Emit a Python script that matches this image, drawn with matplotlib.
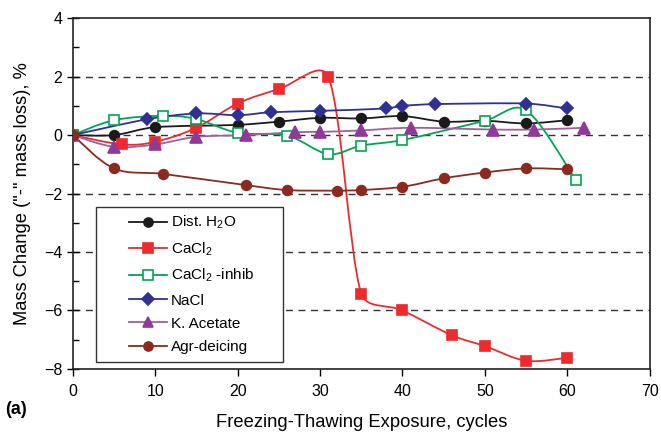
import numpy as np
import matplotlib
matplotlib.use("Agg")
import matplotlib.pyplot as plt
from matplotlib.path import Path
from matplotlib.patches import PathPatch, Rectangle
from matplotlib.lines import Line2D

plt.rcParams['font.family'] = ['Liberation Sans', 'DejaVu Sans']
plt.rcParams['mathtext.default'] = 'regular'

# data
x_h2o = [0, 5, 10, 20, 25, 30, 35, 40, 45, 50, 55, 60]
y_h2o = [0, 0, 0.27, 0.35, 0.46, 0.59, 0.57, 0.65, 0.46, 0.49, 0.40, 0.51]

x_cacl2 = [0, 6, 10, 15, 20, 25, 31, 35, 40, 46, 50, 55, 60]
y_cacl2 = [0, -0.32, -0.23, 0.25, 1.08, 1.57, 2.0, -5.42, -6.0, -6.85, -7.22, -7.72, -7.62]

x_inhib = [0, 5, 11, 15, 20, 26, 31, 35, 40, 50, 55, 61]
y_inhib = [0, 0.51, 0.66, 0.55, 0.08, -0.02, -0.65, -0.36, -0.17, 0.49, 0.85, -1.52]

x_nacl = [0, 9, 15, 20, 24, 30, 38, 40, 44, 55, 60]
y_nacl = [0, 0.54, 0.74, 0.68, 0.78, 0.83, 0.91, 1.0, 1.06, 1.08, 0.91]

x_kac = [0, 5, 10, 15, 21, 27, 30, 35, 41, 51, 56, 62]
y_kac = [0, -0.4, -0.32, -0.06, 0.0, 0.1, 0.11, 0.16, 0.25, 0.19, 0.19, 0.25]

x_agr = [0, 5, 11, 21, 26, 32, 35, 40, 45, 50, 55, 60]
y_agr = [0, -1.14, -1.33, -1.71, -1.88, -1.90, -1.88, -1.77, -1.48, -1.28, -1.14, -1.17]

series = [
    ("Dist. H$_2$O", x_h2o, y_h2o, '#1a1a1a', '#1a1a1a', 'o', '#1a1a1a'),
    ("CaCl$_2$", x_cacl2, y_cacl2, '#ee2a2e', '#ee2a2e', 's', '#ee2a2e'),
    ("CaCl$_2$ -inhib", x_inhib, y_inhib, '#00a651', 'white', 's', '#00a651'),
    ("NaCl", x_nacl, y_nacl, '#2e3192', '#2e3192', 'D', '#2e3192'),
    ("K. Acetate", x_kac, y_kac, '#a0609f', '#8e3a96', '^', '#8e3a96'),
    ("Agr-deicing", x_agr, y_agr, '#8b2a1e', '#8b2a1e', 'o', '#8b2a1e'),
]
msizes = {'o': 7, 's': 7, 'D': 6.5, '^': 8}

SY = 3.55  # y stretch so smoothing is done roughly in screen proportions


def smooth_path(xs, ys, clamp=0.38):
    # excel-like smoothed line: cubic bezier through the points,
    # handle length limited by the segment length
    p = np.column_stack([xs, np.asarray(ys) * SY]).astype(float)
    verts = [p[0]]
    codes = [Path.MOVETO]
    n = len(p)
    for i in range(n - 1):
        p0 = p[i - 1] if i > 0 else p[i]
        p1, p2 = p[i], p[i + 1]
        p3 = p[i + 2] if i + 2 < n else p[i + 1]
        seg = np.hypot(*(p2 - p1))
        d1 = (p2 - p0) / 6.0
        d2 = (p3 - p1) / 6.0
        for d in (d1, d2):
            L = np.hypot(*d)
            if L > clamp * seg and L > 0:
                d *= clamp * seg / L
        verts += [p1 + d1, p2 - d2, p2]
        codes += [Path.CURVE4] * 3
    v = np.array(verts)
    v[:, 1] /= SY
    return Path(v, codes)


fig = plt.figure(figsize=(6.61, 4.33), dpi=100)
ax = fig.add_axes([0.110, 0.148, 0.873, 0.810])

for y in [2, 0, -2, -4, -6]:
    ax.axhline(y, color='#333333', lw=1.0, ls=(0, (5, 4)), zorder=1)

handles = []
for lab, xs, ys, lc, fc, mk, ec in series:
    ax.add_patch(PathPatch(smooth_path(xs, ys), fill=False, edgecolor=lc, lw=1.3, zorder=2))
    ax.plot(xs, ys, ls='none', marker=mk, ms=msizes[mk], mfc=fc, mec=ec, mew=1.2, zorder=3)
    handles.append(Line2D([0], [0], color=lc, lw=1.3, marker=mk, ms=msizes[mk] - 0.5,
                          mfc=fc, mec=ec, mew=1.2, label=lab))

ax.set_xlim(0, 70)
ax.set_ylim(-8, 4)
ax.set_xticks(np.arange(0, 71, 10))
ax.set_yticks(np.arange(-8, 5, 2))
ax.set_yticks(np.arange(-7, 4, 2), minor=True)
ax.tick_params(axis='x', direction='out', length=5, width=1, labelsize=11.5, pad=6)
ax.tick_params(axis='y', which='major', direction='inout', length=8, width=1, labelsize=11.5)
ax.tick_params(axis='y', which='minor', direction='in', length=4, width=1)
for s in ax.spines.values():
    s.set_linewidth(1.2)
    s.set_color('#222222')

ax.set_xlabel("Freezing-Thawing Exposure, cycles", fontsize=13.2, labelpad=11)
ax.set_ylabel('Mass Change ("-" mass loss), %', fontsize=13.2, labelpad=9)

# legend box drawn separately, the reference has a wide left margin
ax.add_patch(Rectangle((0.040, 0.021), 0.324, 0.441, transform=ax.transAxes,
                       facecolor='white', edgecolor='#333333', lw=1.0, zorder=4))
leg = ax.legend(handles=handles, loc='upper left', bbox_to_anchor=(0.097, 0.442),
                fontsize=11, frameon=False, borderpad=0, borderaxespad=0,
                handlelength=2.5, labelspacing=0.6, handletextpad=0.25)
leg.set_zorder(5)

fig.text(0.008, 0.045, "(a)", fontsize=13, fontweight='bold')

fig.savefig("out.png", dpi=100)
